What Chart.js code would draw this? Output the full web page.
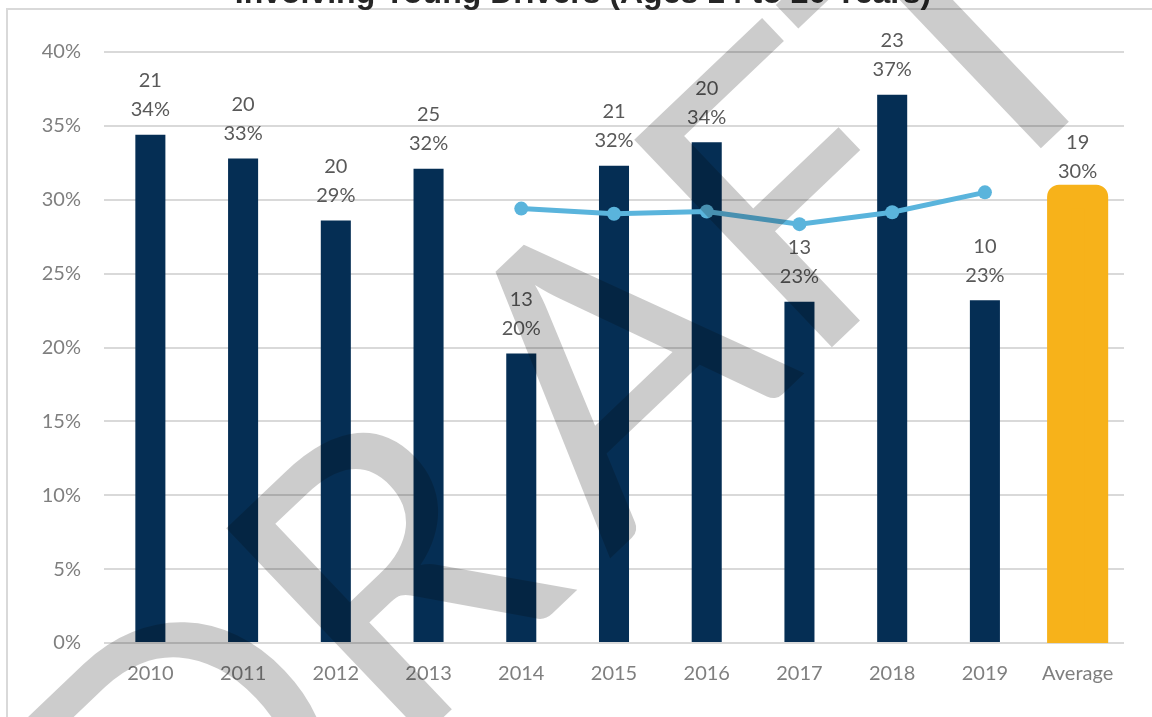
<!DOCTYPE html>
<html>
<head>
<meta charset="utf-8">
<script src="https://cdn.jsdelivr.net/npm/chart.js@4.4.1/dist/chart.umd.min.js"></script>
<style>
  html, body { margin: 0; padding: 0; background: #fff; overflow: hidden; }
  #wrap { position: relative; width: 1152px; height: 717px; }
</style>
</head>
<body>
<div id="wrap"><canvas id="chart" width="1152" height="717"></canvas></div>
<script>
// --- data ---
const categories = ['2010', '2011', '2012', '2013', '2014', '2015', '2016', '2017', '2018', '2019', 'Average'];
const shareValues = [34.4, 32.8, 28.6, 32.1, 19.6, 32.3, 33.9, 23.1, 37.1, 23.2, null];
const averageValues = [null, null, null, null, null, null, null, null, null, null, 30.2];
const trendValues = [null, null, null, null, 29.4, 29.05, 29.2, 28.35, 29.15, 30.5, null];
const crashCounts = ['21', '20', '20', '25', '13', '21', '20', '13', '23', '10', '19'];
const pctLabels = ['34%', '33%', '29%', '32%', '20%', '32%', '34%', '23%', '37%', '23%', '30%'];
const yTicks = [0, 5, 10, 15, 20, 25, 30, 35, 40];
const titleText = 'Involving Young Drivers (Ages 14 to 20 Years)';
const watermarkText = 'DRAFT';

const NAVY = '#052e54';
const GOLD = '#f7b21a';
const SKY = '#5ab4dc';

// fondo, marco y titulo (recortado arriba)
const framePlugin = {
    id: 'frame',
    beforeDraw(chart) {
        const ctx = chart.ctx;
        ctx.save();
        ctx.fillStyle = '#fff';
        ctx.fillRect(0, 0, chart.width, chart.height);
        ctx.strokeStyle = '#d9d9d9';
        ctx.lineWidth = 2;
        ctx.beginPath();
        ctx.moveTo(7, chart.height);
        ctx.lineTo(7, 9);
        ctx.lineTo(chart.width, 9);
        ctx.stroke();
        ctx.fillStyle = '#262626';
        ctx.font = 'bold 32px "Liberation Sans", Arial, sans-serif';
        ctx.textAlign = 'center';
        ctx.textBaseline = 'alphabetic';
        ctx.fillText(titleText, 583, 3);
        ctx.restore();
    }
};

// contorno grueso de la barra promedio (como en Excel)
const avgOutline = {
    id: 'avgOutline',
    afterDatasetDraw(chart, args) {
        if (args.index !== 1) return;
        const ctx = chart.ctx;
        const area = chart.chartArea;
        ctx.save();
        ctx.beginPath();
        ctx.rect(area.left, area.top - 40, area.right - area.left, area.bottom - area.top + 40);
        ctx.clip();
        args.meta.data.forEach((bar, i) => {
            if (averageValues[i] == null) return;
            const w = bar.width;
            ctx.strokeStyle = GOLD;
            ctx.lineWidth = 24;
            ctx.lineJoin = 'round';
            ctx.strokeRect(bar.x - w / 2, bar.y, w, bar.base - bar.y);
        });
        ctx.restore();
    }
};

// etiquetas: conteo arriba, porcentaje abajo
const labelPlugin = {
    id: 'twoLineLabels',
    afterDatasetsDraw(chart) {
        const ctx = chart.ctx;
        const navyMeta = chart.getDatasetMeta(0);
        const goldMeta = chart.getDatasetMeta(1);
        ctx.save();
        ctx.fillStyle = '#595959';
        ctx.font = '20px Lato, sans-serif';
        ctx.textAlign = 'center';
        ctx.textBaseline = 'middle';
        categories.forEach((c, i) => {
            const el = shareValues[i] != null ? navyMeta.data[i] : goldMeta.data[i];
            ctx.fillText(pctLabels[i], el.x, el.y - 25);
            ctx.fillText(crashCounts[i], el.x, el.y - 54);
        });
        ctx.restore();
    }
};

// marca de agua DRAFT (letras sueltas, D y R un poco mas separadas)
const watermark = {
    id: 'watermark',
    afterDraw(chart) {
        const ctx = chart.ctx;
        ctx.save();
        ctx.globalCompositeOperation = 'multiply';
        ctx.fillStyle = '#cccccc';
        ctx.font = '400px Lato, sans-serif';
        ctx.textAlign = 'left';
        ctx.textBaseline = 'alphabetic';
        const ang = -43.6 * Math.PI / 180;
        const pre = ctx.measureText(watermarkText.slice(0, 3)).width;
        const fLeft = pre - ctx.measureText(watermarkText[3]).actualBoundingBoxLeft;
        const ox = 828 - fLeft * Math.cos(ang);
        const oy = 351 - fLeft * Math.sin(ang);
        ctx.translate(ox, oy);
        ctx.rotate(ang);
        const shift = -42;
        ctx.fillText(watermarkText.slice(0, 2), shift, 0);
        ctx.fillText(watermarkText.slice(2), ctx.measureText(watermarkText.slice(0, 2)).width, 0);
        ctx.restore();
    }
};

const ctx = document.getElementById('chart').getContext('2d');
new Chart(ctx, {
    data: {
        labels: categories,
        datasets: [
            { type: 'bar', data: shareValues, backgroundColor: NAVY, barPercentage: 0.324, categoryPercentage: 1, grouped: false, order: 2 },
            { type: 'bar', data: averageValues, backgroundColor: GOLD, barPercentage: 0.40, categoryPercentage: 1, grouped: false, order: 1 },
            { type: 'line', data: trendValues, borderColor: SKY, backgroundColor: SKY, borderWidth: 5,
              pointRadius: 7, pointBackgroundColor: SKY, pointBorderWidth: 0, tension: 0, spanGaps: false, order: 0 }
        ]
    },
    options: {
        responsive: false,
        animation: false,
        layout: { padding: { left: 0, top: 52, right: 28, bottom: 0 } },
        plugins: { legend: { display: false }, tooltip: { enabled: false } },
        scales: {
            x: {
                grid: { display: false },
                border: { display: false },
                ticks: { color: '#7f7f7f', font: { family: 'Lato', size: 20 }, padding: 11, maxRotation: 0 },
                afterFit: s => { s.height = 74; }
            },
            y: {
                min: 0, max: 40,
                afterBuildTicks: s => { s.ticks = yTicks.map(v => ({ value: v })); },
                ticks: { color: '#7f7f7f', font: { family: 'Lato', size: 20 }, padding: 23, callback: v => v + '%' },
                grid: { color: '#d9d9d9', lineWidth: 2, drawTicks: false },
                border: { display: false },
                afterFit: s => { s.width = 104; }
            }
        }
    },
    plugins: [framePlugin, avgOutline, labelPlugin, watermark]
});
</script>
</body>
</html>
